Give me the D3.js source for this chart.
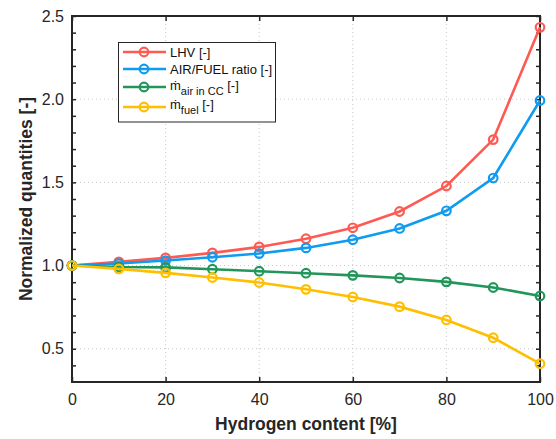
<!DOCTYPE html>
<html><head><meta charset="utf-8">
<script src="https://cdn.jsdelivr.net/npm/d3@7"></script>
<style>body{margin:0;background:#fff}svg{display:block}text{font-family:"Liberation Sans",Arial,sans-serif}</style>
</head><body>
<svg id="c" width="556" height="439"></svg>
<script>
const hydrogen = [0,10,20,30,40,50,60,70,80,90,100];
const lhv      = [1,1.022,1.046,1.076,1.112,1.161,1.227,1.325,1.478,1.757,2.432];
const airFuel  = [1,1.012,1.03,1.05,1.072,1.106,1.155,1.223,1.329,1.526,1.992];
const mAir     = [1,0.991,0.989,0.978,0.966,0.954,0.941,0.925,0.902,0.868,0.817];
const mFuel    = [1,0.98,0.956,0.928,0.898,0.857,0.811,0.753,0.673,0.566,0.41];
const xTicks = [0,20,40,60,80,100];
const yTicks = [0.5,1.0,1.5,2.0,2.5];
const seriesNames = ["LHV","AIR/FUEL","mair","mfuel"];
const colors = ["#ff5a52","#0f9bef","#22965a","#ffbf00"];

const svg = d3.select("#c");
const L=72,R=540,T=16,B=382;
const x = d3.scaleLinear().domain([0,100]).range([L,R]);
const y = d3.scaleLinear().domain([0.3,2.5]).range([B,T]);
const axCol="#262626";

// grid
const g = svg.append("g");
g.selectAll(".gx").data(xTicks.slice(1,-1)).enter().append("line")
 .attr("x1",d=>x(d)).attr("x2",d=>x(d)).attr("y1",T).attr("y2",B)
 .attr("stroke","#c8c8c8").attr("stroke-dasharray","1,3").attr("stroke-width",1);
g.selectAll(".gy").data(yTicks.slice(0,-1)).enter().append("line")
 .attr("y1",d=>y(d)).attr("y2",d=>y(d)).attr("x1",L).attr("x2",R)
 .attr("stroke","#c8c8c8").attr("stroke-dasharray","1,3").attr("stroke-width",1);

// axes
const minorY = d3.range(4,26).map(v=>v/10);
const fmtY = d3.format(".1f");
svg.append("g").attr("transform",`translate(0,${B})`)
 .call(d3.axisBottom(x).tickValues(xTicks).tickSizeInner(-5).tickSizeOuter(0).tickPadding(12))
 .call(s=>{s.select(".domain").remove();s.selectAll("line").attr("stroke",axCol).attr("stroke-width",1.5);
   s.selectAll("text").attr("fill",axCol).attr("font-size",16).attr("dy","0.71em");});
svg.append("g").attr("transform",`translate(0,${T})`)
 .call(d3.axisTop(x).tickValues(xTicks).tickSizeInner(-5).tickSizeOuter(0).tickFormat(""))
 .call(s=>{s.select(".domain").remove();s.selectAll("line").attr("stroke",axCol).attr("stroke-width",1.5);});
svg.append("g").attr("transform",`translate(${L},0)`)
 .call(d3.axisLeft(y).tickValues(minorY).tickSizeInner(-4).tickSizeOuter(0).tickFormat(""))
 .call(s=>{s.select(".domain").remove();s.selectAll("line").attr("stroke",axCol).attr("stroke-width",1.5);});
svg.append("g").attr("transform",`translate(${R},0)`)
 .call(d3.axisRight(y).tickValues(minorY).tickSizeInner(-4).tickSizeOuter(0).tickFormat(""))
 .call(s=>{s.select(".domain").remove();s.selectAll("line").attr("stroke",axCol).attr("stroke-width",1.5);});
svg.append("g").attr("transform",`translate(${L},0)`)
 .call(d3.axisLeft(y).tickValues(yTicks).tickSize(0).tickPadding(8).tickFormat(fmtY))
 .call(s=>{s.select(".domain").remove();s.selectAll("text").attr("fill",axCol).attr("font-size",16);});
svg.append("rect").attr("x",L).attr("y",T).attr("width",R-L).attr("height",B-T)
 .attr("fill","none").attr("stroke",axCol).attr("stroke-width",2);

// series
const data=[lhv,airFuel,mAir,mFuel];
const line=d3.line().x((d,i)=>x(hydrogen[i])).y(d=>y(d));
data.forEach((s,k)=>{
  const gg=svg.append("g");
  gg.append("path").datum(s).attr("d",line).attr("fill","none").attr("stroke",colors[k]).attr("stroke-width",2.6);
  gg.selectAll("circle").data(s).enter().append("circle")
    .attr("cx",(d,i)=>x(hydrogen[i])).attr("cy",d=>y(d)).attr("r",4.3)
    .attr("fill","none").attr("stroke",colors[k]).attr("stroke-width",2.2);
});

// labels
svg.append("text").attr("x",(L+R)/2).attr("y",430).attr("text-anchor","middle")
 .attr("font-size",17.5).attr("font-weight","bold").attr("fill",axCol).text("Hydrogen content [%]");
svg.append("text").attr("transform",`translate(32,${(T+B)/2}) rotate(-90)`).attr("text-anchor","middle")
 .attr("font-size",17.5).attr("font-weight","bold").attr("fill",axCol).text("Normalized quantities [-]");

// legend
const lg=svg.append("g");
lg.append("rect").attr("x",118.5).attr("y",42.5).attr("width",157).attr("height",79.5)
 .attr("fill","#fff").attr("stroke",axCol).attr("stroke-width",1);
const ly=[52,69,87,107];
ly.forEach((yy,k)=>{
  lg.append("line").attr("x1",123).attr("x2",166).attr("y1",yy).attr("y2",yy).attr("stroke",colors[k]).attr("stroke-width",2.6);
  lg.append("circle").attr("cx",144).attr("cy",yy).attr("r",4.3).attr("fill","none").attr("stroke",colors[k]).attr("stroke-width",2.2);
});
const lt=(yy)=>lg.append("text").attr("x",170).attr("y",yy+4.5).attr("font-size",13).attr("fill","#111");
lt(ly[0]).text("LHV [-]");
lt(ly[1]).text("AIR/FUEL ratio [-]");
const t3=lt(ly[2]-2);
t3.append("tspan").text("\u1E41");
t3.append("tspan").attr("font-size",11).attr("dy",5).text("air in CC");
t3.append("tspan").attr("dy",-5).text(" [-]");
const t4=lt(ly[3]-3);
t4.append("tspan").text("\u1E41");
t4.append("tspan").attr("font-size",11).attr("dy",5).text("fuel");
t4.append("tspan").attr("dy",-5).text(" [-]");
</script>
</body></html>
